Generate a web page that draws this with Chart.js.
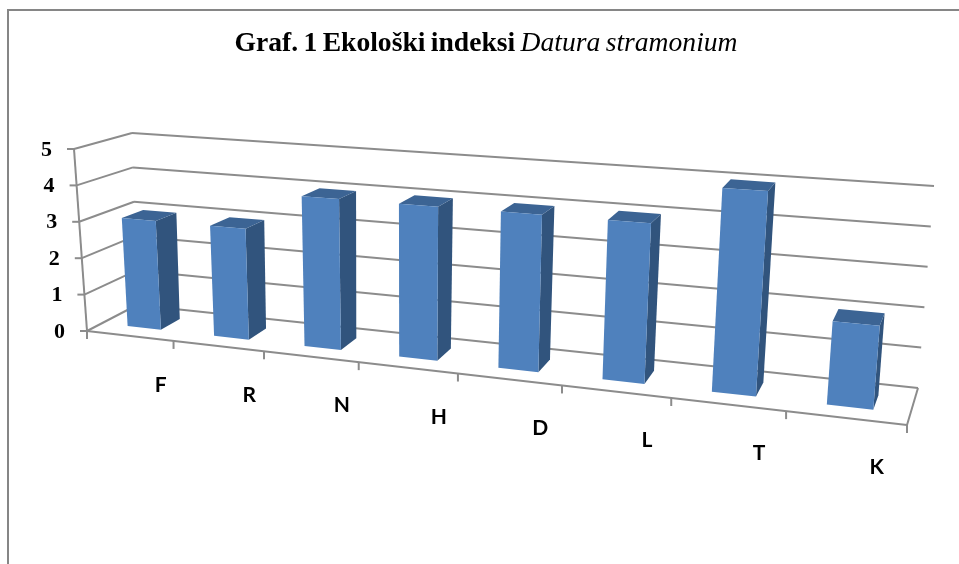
<!DOCTYPE html>
<html>
<head>
<meta charset="utf-8">
<title>Graf. 1</title>
<script src="https://cdn.jsdelivr.net/npm/chart.js@4/dist/chart.umd.js"></script>
<style>
    html, body { margin: 0; padding: 0; background: #fff; overflow: hidden; }
    #wrap { position: relative; width: 959px; height: 564px; }
    #frame { position: absolute; left: 7px; top: 9px; width: 960px; height: 600px; border: 2px solid #868686; box-sizing: border-box; }
    #title { position: absolute; left: 0; top: 26px; width: 972px; text-align: center; font: bold 27.6px "Liberation Serif", serif; color: #000; white-space: nowrap; word-spacing: -1.5px; }
    #title i { font-weight: normal; }
    canvas { position: absolute; left: 0; top: 0; filter: blur(0.4px); }
</style>
</head>
<body>
<div id="wrap">
    <canvas id="chart" width="959" height="564"></canvas>
    <div id="frame"></div>
    <div id="title">Graf. 1 Ekološki indeksi <i>Datura stramonium</i></div>
</div>
<script>
const categories = ['F', 'R', 'N', 'H', 'D', 'L', 'T', 'K'];
const indexValues = [3, 3, 4, 4, 4, 4, 5, 2];
const yTicks = [0, 1, 2, 3, 4, 5];

// corners of the 3D box on the page (front plane and back wall)
const box = {
    frontBottomLeft: [87, 331], frontBottomRight: [907, 425],
    frontTopLeft: [74, 149], frontTopRight: [925, 209],
    backBottomLeft: [137, 305], backBottomRight: [918, 388],
    backTopLeft: [132, 133], backTopRight: [934, 186]
};
const perspective = -0.174;
const barDepth = [0.3, 0.7];
const gridColor = '#8c8c8c';

const lerp = (a, b, t) => [a[0] + (b[0] - a[0]) * t, a[1] + (b[1] - a[1]) * t];

// u along categories, v up the value axis, w into the page, all 0..1
function project(u, v, w) {
    const p = u * (1 + perspective) / (1 + perspective * u);
    const front = lerp(lerp(box.frontBottomLeft, box.frontBottomRight, p), lerp(box.frontTopLeft, box.frontTopRight, p), v);
    const back = lerp(lerp(box.backBottomLeft, box.backBottomRight, p), lerp(box.backTopLeft, box.backTopRight, p), v);
    return lerp(front, back, w);
}

function polygon(ctx, points, fill) {
    ctx.beginPath();
    points.forEach((pt, i) => i ? ctx.lineTo(pt[0], pt[1]) : ctx.moveTo(pt[0], pt[1]));
    ctx.closePath();
    ctx.fillStyle = fill;
    ctx.fill();
}

function line(ctx, a, b) {
    ctx.beginPath();
    ctx.moveTo(a[0], a[1]);
    ctx.lineTo(b[0], b[1]);
    ctx.stroke();
}

class Bar3dElement extends Chart.BarElement {
    static id = 'bar3d';
    draw(ctx) {
        const area = this.$area;
        const u0 = (this.x - this.width / 2 - area.left) / area.width;
        const u1 = (this.x + this.width / 2 - area.left) / area.width;
        const v = (this.base - this.y) / area.height;
        const [w0, w1] = barDepth;
        ctx.save();
        polygon(ctx, [project(u1, 0, w0), project(u1, 0, w1), project(u1, v, w1), project(u1, v, w0)], '#31547d');
        polygon(ctx, [project(u0, v, w0), project(u1, v, w0), project(u1, v, w1), project(u0, v, w1)], '#3c6494');
        polygon(ctx, [project(u0, 0, w0), project(u1, 0, w0), project(u1, v, w0), project(u0, v, w0)], '#4f81bd');
        ctx.restore();
    }
}

class Bar3dController extends Chart.BarController {
    static id = 'bar3d';
    static defaults = { ...Chart.BarController.defaults, dataElementType: 'bar3d' };
    updateElements(bars, start, count, mode) {
        super.updateElements(bars, start, count, mode);
        bars.forEach(bar => { bar.$area = this.chart.chartArea; });
    }
}

Chart.register(Bar3dElement, Bar3dController);

const box3dAxes = {
    id: 'box3dAxes',
    beforeDatasetsDraw(chart) {
        const ctx = chart.ctx;
        const area = chart.chartArea;
        const yScale = chart.scales.y;
        const xScale = chart.scales.x;
        ctx.save();
        ctx.strokeStyle = gridColor;
        ctx.lineWidth = 2;

        // back wall and left wall lines, with the value labels
        ctx.fillStyle = '#000';
        ctx.font = 'bold 22px "Liberation Serif", serif';
        ctx.textAlign = 'right';
        ctx.textBaseline = 'middle';
        yTicks.forEach(tick => {
            const v = (area.bottom - yScale.getPixelForValue(tick)) / area.height;
            const front = project(0, v, 0);
            const back = project(0, v, 1);
            line(ctx, front, back);
            line(ctx, back, project(1, v, 1));
            line(ctx, front, [front[0] - 7, front[1]]);
            ctx.fillText(String(tick), front[0] - 22, front[1] + 1);
        });
        line(ctx, project(0, 0, 0), project(0, 1, 0));

        // floor
        line(ctx, project(0, 0, 0), project(1, 0, 0));
        line(ctx, project(1, 0, 0), project(1, 0, 1));

        // category ticks and labels
        for (let i = 0; i <= categories.length; i++) {
            const pt = project(i / categories.length, 0, 0);
            line(ctx, pt, [pt[0], pt[1] + 8]);
        }
        ctx.font = 'bold 21px Lato, sans-serif';
        ctx.textAlign = 'center';
        categories.forEach((name, i) => {
            const u = (xScale.getPixelForValue(i) - area.left) / area.width;
            const pt = project(u, 0, 0);
            ctx.fillText(name, pt[0] + 31, pt[1] + 49);
        });
        ctx.restore();
    }
};

new Chart(document.getElementById('chart').getContext('2d'), {
    type: 'bar3d',
    data: {
        labels: categories,
        datasets: [{
            label: 'Datura stramonium',
            data: indexValues,
            backgroundColor: '#4f81bd',
            barPercentage: 0.39,
            categoryPercentage: 1
        }]
    },
    options: {
        responsive: false,
        animation: false,
        layout: { padding: 0 },
        events: [],
        plugins: {
            legend: { display: false },
            title: { display: false },
            tooltip: { enabled: false }
        },
        scales: {
            x: { display: false },
            y: { display: false, min: 0, max: 5, ticks: { stepSize: 1 } }
        }
    },
    plugins: [box3dAxes]
});
</script>
</body>
</html>
